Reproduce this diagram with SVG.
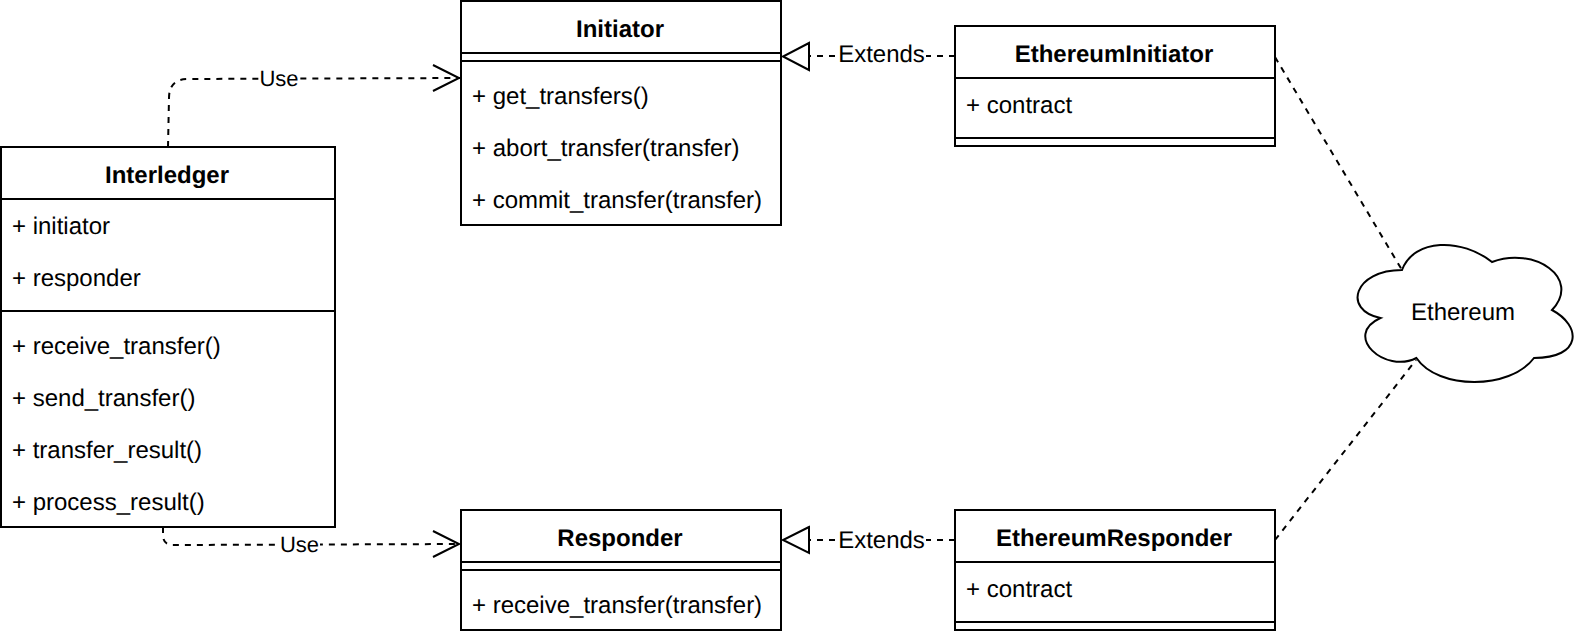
<svg xmlns="http://www.w3.org/2000/svg" width="1584" height="636" viewBox="0 0 1584 636">
<defs>
<style>
.b{fill:#fff;stroke:#000;stroke-width:2}
.l{fill:none;stroke:#000;stroke-width:2}
.d{fill:none;stroke:#000;stroke-width:2;stroke-dasharray:6 6}
.ah{fill:none;stroke:#000;stroke-width:2}
.tri{fill:#fff;stroke:#000;stroke-width:2}
text{font-family:"Liberation Sans",Arial,sans-serif;font-size:24px;fill:#000;text-rendering:geometricPrecision}
.h{font-weight:bold;text-anchor:middle}
.c{text-anchor:middle}
.u{font-size:22px;text-anchor:middle}
.bg{fill:#fff;stroke:none}
</style>
</defs>
<g id="connectors">
<path class="d" d="M168 147 L169 98 Q169 79 188 79 L461 78"/>
<path class="ah" d="M433 65 L459 78 L433 91"/>
<rect class="bg" x="260" y="66" width="40" height="25"/>
<text class="u" x="279" y="86">Use</text>
<path class="d" d="M163 527 L163 535 Q163 545 173 545 L461 544"/>
<path class="ah" d="M433 531 L459 544 L433 557"/>
<rect class="bg" x="280" y="533" width="40" height="25"/>
<text class="u" x="299.500" y="552">Use</text>
<path class="d" d="M955 56 L809 56"/>
<path class="tri" d="M809 43 L783 56.500 L809 70 Z"/>
<rect class="bg" x="838" y="43" width="88" height="28"/>
<text class="c" x="881.500" y="62">Extends</text>
<path class="d" d="M955 540 L809 540"/>
<path class="tri" d="M809 527 L783 540 L809 553 Z"/>
<rect class="bg" x="838" y="526" width="88" height="28"/>
<text class="c" x="881.500" y="548">Extends</text>
<path class="d" d="M1275 57 L1402 270"/>
<path class="d" d="M1275 540 L1416 360"/>
</g>
<g id="interledger">
<rect class="b" x="1" y="147" width="334" height="380"/>
<path class="l" d="M1 199 H335 M1 311 H335"/>
<text class="h" x="167" y="183">Interledger</text>
<text x="12" y="234">+ initiator</text>
<text x="12" y="286">+ responder</text>
<text x="12" y="354">+ receive_transfer()</text>
<text x="12" y="406">+ send_transfer()</text>
<text x="12" y="458">+ transfer_result()</text>
<text x="12" y="510">+ process_result()</text>
</g>
<g id="initiator">
<rect class="b" x="461" y="1" width="320" height="224"/>
<path class="l" d="M461 53 H781 M461 61 H781"/>
<text class="h" x="620" y="37">Initiator</text>
<text x="472" y="104">+ get_transfers()</text>
<text x="472" y="156">+ abort_transfer(transfer)</text>
<text x="472" y="208">+ commit_transfer(transfer)</text>
</g>
<g id="responder">
<rect class="b" x="461" y="510" width="320" height="120"/>
<path class="l" d="M461 562 H781 M461 570 H781"/>
<text class="h" x="620" y="546">Responder</text>
<text x="472" y="613">+ receive_transfer(transfer)</text>
</g>
<g id="ethereum-initiator">
<rect class="b" x="955" y="26" width="320" height="120"/>
<path class="l" d="M955 78 H1275 M955 138 H1275"/>
<text class="h" x="1114" y="62">EthereumInitiator</text>
<text x="966" y="113">+ contract</text>
</g>
<g id="ethereum-responder">
<rect class="b" x="955" y="510" width="320" height="120"/>
<path class="l" d="M955 562 H1275 M955 622 H1275"/>
<text class="h" x="1114" y="546">EthereumResponder</text>
<text x="966" y="597">+ contract</text>
</g>
<g id="ethereum">
<path class="b" d="M1402 270 C1354 270 1342 310 1380.400 318 C1342 335.600 1385.200 374 1416.400 358 C1438 390 1510 390 1534 358 C1582 358 1582 326 1552 310 C1582 278 1534 246 1492 262 C1462 238 1414 238 1402 270 Z"/>
<text class="c" x="1463" y="320">Ethereum</text>
</g>
</svg>
